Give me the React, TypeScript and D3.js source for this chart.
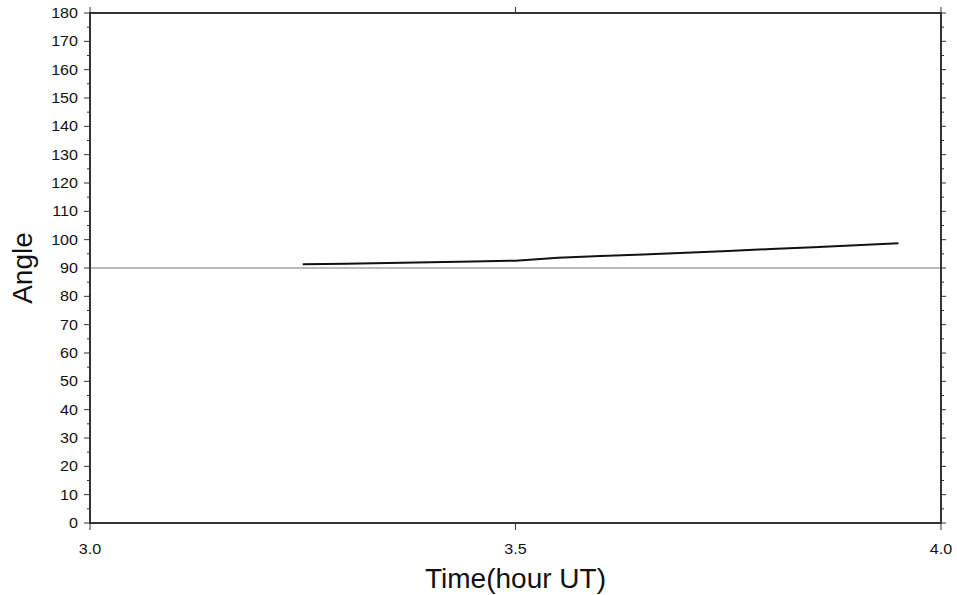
import React from "react";
import * as d3 from "d3";

// data
const times = [3.25, 3.3, 3.35, 3.4, 3.45, 3.5, 3.55, 3.6, 3.65, 3.7, 3.75, 3.8, 3.85, 3.9, 3.95];
const angles = [91.3, 91.5, 91.8, 92.0, 92.3, 92.6, 93.6, 94.2, 94.8, 95.4, 96.0, 96.7, 97.3, 98.0, 98.7];
const xTicks = [3.0, 3.5, 4.0];
const yTicks = d3.range(0, 181, 10);
const yMinor = d3.range(5, 180, 10);
const refAngle = 90;

const W = 957;
const H = 595;
const m = { left: 90, right: 16, top: 13, bottom: 72 };

export default function App() {
  const x = d3.scaleLinear().domain([3, 4]).range([m.left, W - m.right]);
  const y = d3.scaleLinear().domain([0, 180]).range([H - m.bottom, m.top]);

  const pts = times.map((t, i) => ({ t, a: angles[i] }));
  const line = d3
    .line<{ t: number; a: number }>()
    .x((d) => x(d.t))
    .y((d) => y(d.a));

  const x0 = x.range()[0];
  const x1 = x.range()[1];
  const y0 = y.range()[0];
  const y1 = y.range()[1];
  const axisColor = "#333";
  const font = "'Liberation Sans', Arial, Helvetica, sans-serif";

  return (
    <div style={{ position: "absolute", left: 0, top: 0 }}>
      <svg width={W} height={H} style={{ display: "block", background: "#fff" }}>
        {/* reference line at 90 */}
        <line x1={x0} x2={x1} y1={y(refAngle)} y2={y(refAngle)} stroke="#777" strokeWidth={1} />

        {/* data */}
        <path d={line(pts) || ""} fill="none" stroke="#111" strokeWidth={2} />

        {/* frame */}
        <rect x={x0} y={y1} width={x1 - x0} height={y0 - y1} fill="none" stroke={axisColor} strokeWidth={2} />

        {/* y ticks left and right */}
        {yTicks.map((v) => (
          <g key={"y" + v}>
            <line x1={x0 - 6} x2={x0} y1={y(v)} y2={y(v)} stroke={axisColor} strokeWidth={1} />
            <line x1={x1} x2={x1 + 5} y1={y(v)} y2={y(v)} stroke={axisColor} strokeWidth={1} />
            <text
              transform={`translate(${x0 - 12},${y(v) + 5}) scale(1.15,1)`}
              textAnchor="end"
              fontFamily={font}
              fontSize={14}
              fill="#111"
            >
              {v}
            </text>
          </g>
        ))}
        {yMinor.map((v) => (
          <g key={"ym" + v}>
            <line x1={x0 - 3} x2={x0} y1={y(v)} y2={y(v)} stroke={axisColor} strokeWidth={1} />
            <line x1={x1} x2={x1 + 3} y1={y(v)} y2={y(v)} stroke={axisColor} strokeWidth={1} />
          </g>
        ))}

        {/* x ticks bottom and top */}
        {xTicks.map((v) => (
          <g key={"x" + v}>
            <line x1={x(v)} x2={x(v)} y1={y0} y2={y0 + 7} stroke={axisColor} strokeWidth={1} />
            <line x1={x(v)} x2={x(v)} y1={y1 - 6} y2={y1} stroke={axisColor} strokeWidth={1} />
            <text
              transform={`translate(${x(v)},${y0 + 31}) scale(1.15,1)`}
              textAnchor="middle"
              fontFamily={font}
              fontSize={14}
              fill="#111"
            >
              {d3.format(".1f")(v)}
            </text>
          </g>
        ))}

        {/* axis titles */}
        <text
          x={(x0 + x1) / 2}
          y={588}
          textAnchor="middle"
          fontFamily={font}
          fontSize={28}
          fill="#111"
        >
          Time(hour UT)
        </text>
        <text
          transform={`translate(32,${y(refAngle)}) rotate(-90)`}
          textAnchor="middle"
          fontFamily={font}
          fontSize={28}
          fill="#111"
        >
          Angle
        </text>
      </svg>
    </div>
  );
}
